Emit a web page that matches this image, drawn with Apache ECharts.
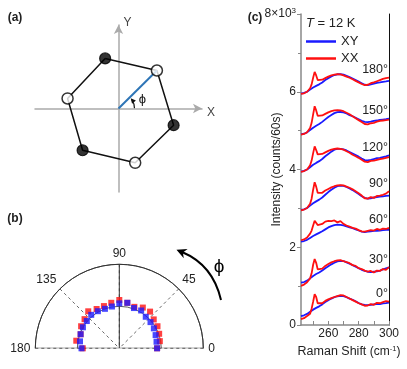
<!DOCTYPE html>
<html>
<head>
<meta charset="utf-8">
<script src="https://cdn.jsdelivr.net/npm/echarts@6/dist/echarts.min.js"></script>
<style>
html, body { margin: 0; padding: 0; background: #fff; }
#main { width: 407px; height: 369px; }
</style>
</head>
<body>
<div id="main"></div>
<script>
// (a) hexagon vertices, filled = 1, open = 0
const vertX = [-0.16, 0.46, 0.66, 0.20, -0.43, -0.61];
const vertY = [0.60, 0.455, -0.20, -0.65, -0.50, 0.12];
const vertFilled = [1, 0, 1, 0, 1, 0];

// (b) polar intensities
const polarAngles = [0, 10, 20, 30, 40, 50, 60, 70, 80, 90, 100, 110, 120, 130, 140, 150, 160, 170, 180];
const polarXY = [0.90, 0.90, 0.92, 0.95, 0.97, 0.98, 1.04, 1.02, 1.10, 1.07, 1.01, 1.00, 1.02, 1.04, 1.01, 1.00, 0.98, 0.95, 0.90];
const polarXX = [0.90, 0.98, 1.01, 1.05, 1.07, 1.14, 1.12, 1.05, 1.10, 1.15, 1.10, 1.07, 1.08, 1.15, 1.08, 1.05, 0.98, 1.04, 0.87];

// (c) spectra, offset per angle
const ramanShift = [242, 244, 246, 248, 249, 250, 251, 252, 253, 254, 256, 258, 260, 262, 264, 266, 268, 270, 272, 274, 276, 278, 280, 282, 284, 286, 288, 290, 292, 294, 296, 298, 300];
const angleLabels = ["0°", "30°", "60°", "90°", "120°", "150°", "180°"];

const xy0 = [230, 250, 285, 340, 365, 395, 415, 440, 460, 480, 530, 590, 640, 680, 715, 740, 748, 745, 715, 680, 650, 610, 565, 530, 515, 510, 520, 530, 540, 535, 555, 565, 576];
const xx0 = [150, 175, 230, 290, 420, 600, 790, 720, 560, 515, 560, 620, 660, 690, 720, 745, 770, 760, 720, 680, 640, 600, 560, 530, 495, 500, 540, 520, 570, 560, 590, 615, 600];
const xy30 = [1090, 1105, 1140, 1200, 1230, 1260, 1285, 1310, 1330, 1350, 1400, 1460, 1510, 1560, 1600, 1635, 1650, 1645, 1610, 1575, 1540, 1500, 1460, 1420, 1390, 1370, 1360, 1370, 1380, 1400, 1430, 1455, 1480];
const xx30 = [1006, 1040, 1100, 1200, 1330, 1550, 1695, 1600, 1430, 1400, 1450, 1520, 1570, 1610, 1640, 1660, 1670, 1640, 1620, 1590, 1540, 1520, 1460, 1440, 1400, 1370, 1390, 1350, 1400, 1390, 1440, 1420, 1490];
const xy60 = [2145, 2160, 2190, 2240, 2265, 2290, 2310, 2330, 2350, 2370, 2410, 2460, 2510, 2545, 2570, 2580, 2575, 2560, 2535, 2510, 2490, 2460, 2430, 2400, 2390, 2400, 2410, 2420, 2420, 2430, 2440, 2445, 2450];
const xx60 = [2180, 2200, 2250, 2350, 2430, 2560, 2684, 2640, 2570, 2560, 2600, 2660, 2680, 2670, 2690, 2640, 2670, 2600, 2560, 2530, 2500, 2480, 2440, 2410, 2400, 2420, 2440, 2430, 2470, 2450, 2480, 2470, 2500];
const xy90 = [2959, 2975, 3010, 3070, 3100, 3130, 3155, 3180, 3205, 3225, 3280, 3350, 3420, 3480, 3530, 3570, 3587, 3580, 3550, 3510, 3470, 3420, 3370, 3310, 3270, 3250, 3260, 3280, 3290, 3300, 3310, 3320, 3330];
const xx90 = [2950, 2970, 3010, 3120, 3250, 3480, 3673, 3560, 3400, 3372, 3400, 3460, 3500, 3540, 3570, 3590, 3600, 3590, 3560, 3530, 3490, 3440, 3390, 3330, 3260, 3250, 3290, 3270, 3320, 3330, 3350, 3380, 3440];
const xy120 = [3948, 3965, 4000, 4060, 4090, 4120, 4145, 4170, 4195, 4215, 4270, 4340, 4400, 4460, 4510, 4530, 4533, 4520, 4490, 4450, 4410, 4370, 4330, 4280, 4240, 4235, 4250, 4270, 4290, 4300, 4320, 4340, 4361];
const xx120 = [3940, 3960, 4000, 4110, 4230, 4420, 4594, 4500, 4390, 4361, 4400, 4440, 4480, 4510, 4530, 4540, 4530, 4510, 4470, 4430, 4380, 4340, 4300, 4250, 4200, 4190, 4220, 4230, 4250, 4270, 4280, 4300, 4318];
const xy150 = [4903, 4920, 4955, 5015, 5045, 5075, 5100, 5125, 5150, 5170, 5225, 5290, 5350, 5400, 5450, 5475, 5479, 5470, 5440, 5400, 5370, 5330, 5290, 5250, 5225, 5221, 5230, 5250, 5260, 5275, 5285, 5295, 5308];
const xx150 = [4895, 4915, 4960, 5070, 5200, 5420, 5626, 5520, 5380, 5350, 5390, 5430, 5470, 5500, 5520, 5525, 5520, 5500, 5460, 5420, 5370, 5320, 5270, 5220, 5170, 5160, 5190, 5200, 5230, 5250, 5260, 5270, 5281];
const xy180 = [5953, 5970, 6000, 6055, 6080, 6110, 6130, 6150, 6170, 6190, 6240, 6300, 6350, 6395, 6430, 6450, 6452, 6440, 6410, 6380, 6340, 6300, 6260, 6220, 6180, 6168, 6190, 6210, 6230, 6240, 6255, 6265, 6279];
const xx180 = [5945, 5960, 6000, 6090, 6190, 6360, 6511, 6420, 6300, 6279, 6310, 6350, 6390, 6420, 6440, 6450, 6445, 6420, 6390, 6360, 6320, 6280, 6240, 6200, 6170, 6180, 6220, 6240, 6270, 6300, 6330, 6350, 6366];

const xySpectra = [xy0, xy30, xy60, xy90, xy120, xy150, xy180];
const xxSpectra = [xx0, xx30, xx60, xx90, xx120, xx150, xx180];

const BLUE = '#1a1aff';
const RED = '#ff1010';
const FONT = 'Liberation Sans, Arial, sans-serif';

const pairs = (xs, ys) => xs.map((x, i) => [x, ys[i]]);

const chart = echarts.init(document.getElementById('main'));

const series = [];
xySpectra.forEach((d) => {
  series.push({
    name: 'XY', type: 'line', xAxisIndex: 0, yAxisIndex: 0,
    data: pairs(ramanShift, d), symbol: 'none',
    lineStyle: { color: BLUE, width: 1.8 }, itemStyle: { color: BLUE }
  });
});
xxSpectra.forEach((d) => {
  series.push({
    name: 'XX', type: 'line', xAxisIndex: 0, yAxisIndex: 0,
    data: pairs(ramanShift, d), symbol: 'none',
    lineStyle: { color: RED, width: 1.8 }, itemStyle: { color: RED }
  });
});

// (a) hexagon
const hexLoop = pairs(vertX, vertY);
hexLoop.push(hexLoop[0]);
series.push({
  type: 'line', xAxisIndex: 1, yAxisIndex: 2, data: hexLoop, symbol: 'none',
  lineStyle: { color: '#111', width: 1.5 }, z: 2
});
series.push({
  type: 'line', xAxisIndex: 1, yAxisIndex: 2, data: [[0, 0], [vertX[1], vertY[1]]], symbol: 'none',
  lineStyle: { color: '#2e75b6', width: 2 }, z: 3
});
series.push({
  type: 'scatter', xAxisIndex: 1, yAxisIndex: 2, symbolSize: 11, z: 4,
  data: vertX.map((x, i) => ({
    value: [x, vertY[i]],
    itemStyle: vertFilled[i]
      ? { color: '#000', borderColor: '#000', borderWidth: 1.2 }
      : { color: '#fff', borderColor: '#000', borderWidth: 1.5 }
  }))
});

// (b) polar
series.push({
  type: 'line', coordinateSystem: 'polar', data: [[2, 0], [0, 0], [2, 180]],
  symbol: 'none', lineStyle: { color: '#333', width: 1 }, z: 1
});
series.push({
  type: 'line', coordinateSystem: 'polar', data: [[0, 90], [2, 90]],
  symbol: 'none', lineStyle: { color: '#333', width: 1 }, z: 1
});
series.push({
  type: 'scatter', coordinateSystem: 'polar', symbol: 'rect', symbolSize: 6,
  data: polarAngles.map((a, i) => [polarXX[i], a]), itemStyle: { color: RED }, z: 3
});
series.push({
  type: 'scatter', coordinateSystem: 'polar', symbol: 'rect', symbolSize: 6,
  data: polarAngles.map((a, i) => [polarXY[i], a]), itemStyle: { color: BLUE }, z: 4
});

const option = {
  animation: false,
  textStyle: { fontFamily: FONT },
  grid: [
    { left: 301, top: 14, width: 88, height: 311 },
    { left: 35, top: 25, width: 167, height: 167 }
  ],
  xAxis: [
    {
      gridIndex: 0, type: 'value', min: 242, max: 300,
      name: '{a|Raman Shift }{b|(cm}{s|-1}{b|)}', nameLocation: 'middle', nameGap: 15,
      nameTextStyle: {
        padding: [0, 0, 0, 8],
        rich: {
          a: { fontSize: 12.5, color: '#222', fontFamily: FONT },
          b: { fontSize: 12, color: '#222', fontFamily: FONT },
          s: { fontSize: 7.5, color: '#222', fontFamily: FONT, padding: [0, 0, 6, 0] }
        }
      },
      axisLine: { lineStyle: { color: '#888', width: 1.5 } },
      axisTick: { inside: true, length: 4, customValues: [250, 260, 270, 280, 290, 300], lineStyle: { color: '#888' } },
      axisLabel: { customValues: [260, 280, 300], fontSize: 12, color: '#222', margin: 3 },
      splitLine: { show: false }
    },
    {
      gridIndex: 1, type: 'value', min: -1, max: 1,
      axisLine: { onZero: true, symbol: ['none', 'arrow'], symbolSize: [7, 9], lineStyle: { color: '#aaa', width: 1.5 } },
      axisTick: { show: false }, axisLabel: { show: false }, splitLine: { show: false }
    }
  ],
  yAxis: [
    {
      gridIndex: 0, type: 'value', min: 0, max: 8000, interval: 2000,
      name: 'Intensity (counts/60s)', nameLocation: 'middle', nameGap: 18, nameMoveOverlap: false,
      nameTextStyle: { fontSize: 12, color: '#222' },
      axisLine: { show: true, lineStyle: { color: '#888', width: 1.5 } },
      axisTick: { show: true, length: 4, lineStyle: { color: '#888' } },
      minorTick: { show: true, splitNumber: 2, length: 3, lineStyle: { color: '#888' } },
      axisLabel: {
        fontSize: 12, color: '#222', margin: 5,
        formatter: (v) => v === 8000 ? '{n|8×10}{s|3}' : String(v / 1000),
        rich: {
          n: { fontSize: 12, color: '#222', fontFamily: FONT },
          s: { fontSize: 8, color: '#222', fontFamily: FONT, padding: [0, 0, 6, 0] }
        }
      },
      splitLine: { show: false }
    },
    {
      gridIndex: 0, type: 'value', min: 0, max: 8000, position: 'right',
      axisLine: { show: true, lineStyle: { color: '#111', width: 1 } },
      axisTick: { show: false }, axisLabel: { show: false }, splitLine: { show: false }
    },
    {
      gridIndex: 1, type: 'value', min: -1, max: 1,
      axisLine: { onZero: true, symbol: ['none', 'arrow'], symbolSize: [7, 9], lineStyle: { color: '#aaa', width: 1.5 } },
      axisTick: { show: false }, axisLabel: { show: false }, splitLine: { show: false }
    }
  ],
  polar: { center: [119.3, 348.3], radius: 84 },
  angleAxis: {
    type: 'value', min: 0, max: 180, interval: 45,
    startAngle: 0, endAngle: 180, clockwise: false,
    axisLine: { lineStyle: { color: '#333', width: 1 } },
    axisTick: { show: false },
    axisLabel: { fontSize: 12, color: '#222', margin: 5 },
    splitLine: { show: true, lineStyle: { color: '#444', width: 0.8, type: [3, 3] } }
  },
  radiusAxis: {
    type: 'value', min: 0, max: 2, interval: 1,
    axisLine: { show: false }, axisTick: { show: false }, axisLabel: { show: false },
    splitLine: { show: true, lineStyle: { color: '#333', width: 0.8 } }
  },
  legend: {
    data: ['XY', 'XX'], orient: 'vertical', left: 306, top: 35, padding: 0,
    icon: 'rect', itemWidth: 30, itemHeight: 2.5, itemGap: 4,
    textStyle: { fontSize: 13, color: '#222' }, selectedMode: false
  },
  series: series
};

chart.setOption(option);

// annotations placed through the coordinate systems
const graphics = [];
const txt = (x, y, text, extra) => graphics.push({
  type: 'text', x: x, y: y,
  style: Object.assign({ text: text, fontSize: 12, fill: '#222', fontFamily: FONT, align: 'center', verticalAlign: 'middle' }, extra || {})
});

txt(15, 18, '(a)', { fontWeight: 'bold' });
txt(15, 219, '(b)', { fontWeight: 'bold' });
txt(255, 18, '(c)', { fontWeight: 'bold' });

// (a) axis names and angle mark
const org = chart.convertToPixel({ gridIndex: 1 }, [0, 0]);
const yTop = chart.convertToPixel({ gridIndex: 1 }, [0, 1]);
const xEnd = chart.convertToPixel({ gridIndex: 1 }, [1, 0]);
txt(yTop[0] + 9, yTop[1] - 2, 'Y', { fill: '#444' });
txt(xEnd[0] + 9, xEnd[1] + 4, 'X', { fill: '#444' });
const arcR = 16, arcEnd = 40 * Math.PI / 180;
graphics.push({
  type: 'arc', shape: { cx: org[0], cy: org[1], r: arcR, startAngle: -arcEnd + 0.08, endAngle: 0, clockwise: true },
  style: { stroke: '#111', lineWidth: 1.2, fill: null }
});
{
  const tx = org[0] + arcR * Math.cos(arcEnd), ty = org[1] - arcR * Math.sin(arcEnd);
  const dx = -Math.sin(arcEnd), dy = -Math.cos(arcEnd);
  const px = -dy, py = dx;
  graphics.push({
    type: 'polygon',
    shape: { points: [[tx, ty], [tx - dx * 5 + px * 2.5, ty - dy * 5 + py * 2.5], [tx - dx * 5 - px * 2.5, ty - dy * 5 - py * 2.5]] },
    style: { fill: '#111' }
  });
}
txt(org[0] + 24, org[1] - 9, 'ϕ', { fontSize: 13, fill: '#111' });

// (b) rotation arrow
{
  const x1 = 221, y1 = 300, cpx = 213, cpy = 265, x2 = 182, y2 = 252;
  graphics.push({
    type: 'bezierCurve', shape: { x1: x1, y1: y1, x2: x2, y2: y2, cpx1: cpx, cpy1: cpy },
    style: { stroke: '#000', lineWidth: 2, fill: null }
  });
  let dx = x2 - cpx, dy = y2 - cpy;
  const L = Math.hypot(dx, dy); dx /= L; dy /= L;
  const px = -dy, py = dx;
  const tx = x2 + dx * 6, ty = y2 + dy * 6;
  graphics.push({
    type: 'polygon',
    shape: { points: [[tx, ty], [tx - dx * 10 + px * 5, ty - dy * 10 + py * 5], [tx - dx * 7, ty - dy * 7], [tx - dx * 10 - px * 5, ty - dy * 10 - py * 5]] },
    style: { fill: '#000' }
  });
}
txt(219, 267, 'ϕ', { fontSize: 19, fill: '#000' });

// (c) temperature and angle labels
graphics.push({
  type: 'text', x: 306, y: 23,
  style: {
    text: '{i|T} = 12 K', fontSize: 13, fill: '#222', fontFamily: FONT, verticalAlign: 'middle',
    rich: { i: { fontStyle: 'italic', fontSize: 13, fontFamily: FONT } }
  }
});
angleLabels.forEach((lab, i) => {
  const n = ramanShift.length - 1;
  const top = Math.max(xySpectra[i][n], xxSpectra[i][n]);
  const p = chart.convertToPixel({ gridIndex: 0 }, [300, top]);
  txt(p[0] - 1, p[1] - 8, lab, { align: 'right', fontSize: 12.5 });
});

chart.setOption({ graphic: graphics });
</script>
</body>
</html>
